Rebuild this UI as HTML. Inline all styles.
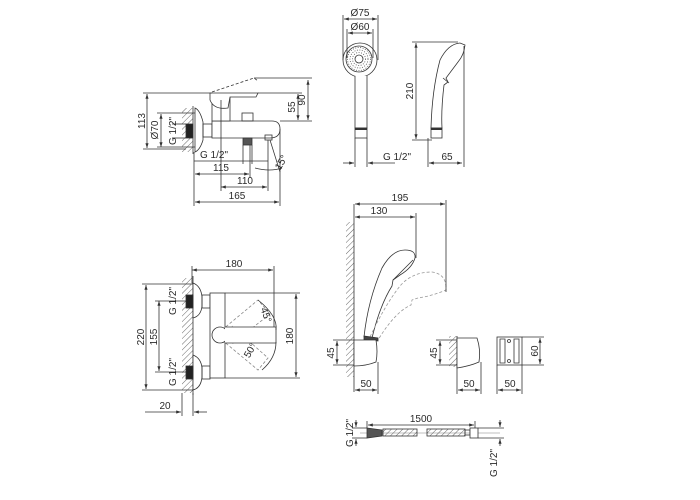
<!DOCTYPE html>
<html><head><meta charset="utf-8"><style>
html,body{margin:0;padding:0;background:#fff;}
svg{display:block;}
text{font-family:"Liberation Sans",sans-serif;font-size:10px;fill:#2a2a2a;}
</style></head><body>
<svg width="700" height="500" viewBox="0 0 700 500" xmlns="http://www.w3.org/2000/svg">
<defs>
<pattern id="h" width="4" height="4" patternUnits="userSpaceOnUse" patternTransform="rotate(45)">
<line x1="0" y1="0" x2="0" y2="4" stroke="#444" stroke-width="0.8"/></pattern>
<marker id="a" markerWidth="6" markerHeight="4" refX="6" refY="2" orient="auto-start-reverse"><path d="M0,0 L6,2 L0,4 z" fill="#333"/></marker>
</defs>
<g fill="none" stroke="#333" stroke-width="0.8">
<!-- ===== top-left mixer ===== -->
<rect x="182" y="108" width="11" height="44" fill="url(#h)" stroke="none"/>
<line x1="193" y1="106" x2="193" y2="154"/>
<path d="M195,108 Q200,110 203,122 L203,140 Q200,150 195,152 Z" fill="#fff"/>
<rect x="186" y="124" width="7" height="14" fill="#222"/>
<rect x="203" y="124" width="9" height="13"/>
<path d="M212,121 L272,121 Q280,121 280,129 Q280,138 270,138 L212,138 Z" fill="#fff"/>
<rect x="212" y="96" width="18" height="25" fill="#fff"/>
<path d="M210,93 L258,93 L256,97 L230,97 L228,108 Q214,110 210,100 Z" fill="#fff"/>
<path d="M212,92 L254,78 L258,81" stroke-dasharray="3,2"/>
<rect x="242" y="113" width="11" height="8"/>
<rect x="243" y="138" width="9" height="7" fill="#555"/>
<rect x="265" y="135" width="7" height="5"/>
<!-- dims -->
<path d="M147,94 V148" marker-start="url(#a)" marker-end="url(#a)"/>
<line x1="143" y1="93" x2="212" y2="93"/><line x1="143" y1="149" x2="186" y2="149"/>
<path d="M161,114 V147" marker-start="url(#a)" marker-end="url(#a)"/>
<line x1="157" y1="113" x2="195" y2="113"/><line x1="157" y1="147" x2="195" y2="147"/>
<line x1="172" y1="124" x2="186" y2="124"/><line x1="172" y1="138" x2="186" y2="138"/>
<path d="M298,94 V120" marker-start="url(#a)" marker-end="url(#a)"/>
<path d="M308,80 V120" marker-start="url(#a)" marker-end="url(#a)"/>
<line x1="258" y1="93" x2="302" y2="93"/><line x1="254" y1="78" x2="312" y2="78"/><line x1="280" y1="121" x2="312" y2="121"/>
<path d="M194,161 H268" />
<line x1="243" y1="145" x2="243" y2="164"/><line x1="252" y1="145" x2="252" y2="164"/>
<path d="M195,174 H249" marker-start="url(#a)" marker-end="url(#a)"/>
<path d="M221,187 H267" marker-start="url(#a)" marker-end="url(#a)"/>
<path d="M195,202 H279" marker-start="url(#a)" marker-end="url(#a)"/>
<line x1="194" y1="152" x2="194" y2="206"/><line x1="221" y1="100" x2="221" y2="191"/>
<line x1="250" y1="145" x2="250" y2="178"/><line x1="268" y1="140" x2="268" y2="191"/><line x1="280" y1="129" x2="280" y2="206"/>
<line x1="270" y1="140" x2="280" y2="172"/>
<path d="M255,168 Q270,172 282,168" />
<!-- ===== bottom-left mixer ===== -->
<rect x="182" y="278" width="11" height="115" fill="url(#h)" stroke="none"/>
<line x1="193" y1="276" x2="193" y2="395"/>
<path d="M193,283 Q201,286 202,297 L202,306 Q201,316 193,318 Z" fill="#fff"/>
<path d="M193,355 Q201,358 202,368 L202,377 Q201,388 193,390 Z" fill="#fff"/>
<rect x="186" y="295" width="7" height="13" fill="#222"/><rect x="186" y="366" width="7" height="13" fill="#222"/>
<rect x="202" y="295" width="8" height="13"/><rect x="202" y="366" width="8" height="13"/>
<rect x="210" y="293" width="15" height="85" fill="#fff"/>
<g stroke-dasharray="3,2" stroke="#888">
<path d="M222,330 L258,300 L270,314 L232,344"/>
<path d="M222,340 L258,370 L268,358 L232,326"/>
</g>
<circle cx="220" cy="335" r="8" fill="#fff"/>
<path d="M225,327 L276,327 L276,343 L225,343" fill="#fff"/>
<path d="M258,300 Q278,316 276,330"/><path d="M276,342 Q276,358 262,370"/>
<path d="M192,270 H273" marker-start="url(#a)" marker-end="url(#a)"/>
<line x1="192" y1="266" x2="192" y2="283"/><line x1="274" y1="266" x2="274" y2="327"/>
<path d="M296,294 V377" marker-start="url(#a)" marker-end="url(#a)"/>
<line x1="225" y1="293" x2="300" y2="293"/><line x1="225" y1="378" x2="300" y2="378"/>
<path d="M146,285 V389" marker-start="url(#a)" marker-end="url(#a)"/>
<line x1="142" y1="284" x2="193" y2="284"/><line x1="142" y1="390" x2="193" y2="390"/>
<path d="M159,301 V371" marker-start="url(#a)" marker-end="url(#a)"/>
<line x1="155" y1="301" x2="186" y2="301"/><line x1="155" y1="372" x2="186" y2="372"/>
<line x1="182" y1="393" x2="182" y2="416"/><line x1="193" y1="393" x2="193" y2="416"/>
<path d="M145,412 H181" marker-end="url(#a)"/><path d="M207,412 H194" marker-end="url(#a)"/>
<!-- ===== hand shower front ===== -->
<circle cx="360" cy="60" r="17" fill="#fff"/>
<circle cx="359" cy="59" r="13"/>
<circle cx="359" cy="59" r="4"/>
<g stroke="#555" stroke-dasharray="1,1.5"><circle cx="359" cy="59" r="9"/><circle cx="359" cy="59" r="11.5"/><circle cx="359" cy="59" r="6.5"/></g>
<path d="M355,76 L355,128 L367,128 L367,76" fill="#fff"/>
<rect x="355" y="128" width="12" height="10" fill="#fff"/>
<line x1="355" y1="129" x2="367" y2="129" stroke-width="2"/>
<path d="M344,19 H377" marker-start="url(#a)" marker-end="url(#a)"/>
<line x1="343" y1="15" x2="343" y2="60"/><line x1="378" y1="15" x2="378" y2="60"/>
<path d="M348,33 H372" marker-start="url(#a)" marker-end="url(#a)"/>
<line x1="347" y1="29" x2="347" y2="58"/><line x1="373" y1="29" x2="373" y2="58"/>
<path d="M343,163 H354" marker-end="url(#a)"/><path d="M395,163 H368" marker-end="url(#a)"/>
<line x1="355" y1="138" x2="355" y2="167"/><line x1="367" y1="138" x2="367" y2="167"/>
<!-- side -->
<path d="M431,128 Q432,90 440,60 Q448,44 460,43 L465,45 Q464,55 458,62 L446,78 L448,82 L444,85 Q441,110 442,128 Z" fill="#fff"/>
<line x1="443" y1="78" x2="449" y2="83"/>
<rect x="431" y="128" width="11" height="10" fill="#fff"/>
<line x1="431" y1="129" x2="442" y2="129" stroke-width="2"/>
<path d="M416,43 V139" marker-start="url(#a)" marker-end="url(#a)"/>
<line x1="412" y1="42" x2="458" y2="42"/><line x1="412" y1="140" x2="432" y2="140"/>
<path d="M429,163 H462" marker-start="url(#a)" marker-end="url(#a)"/>
<line x1="428" y1="138" x2="428" y2="167"/><line x1="464" y1="46" x2="464" y2="167"/>
<!-- ===== holder assembly ===== -->
<rect x="346" y="222" width="8" height="155" fill="url(#h)" stroke="none"/>
<line x1="354" y1="204" x2="354" y2="392"/>
<path d="M364,337 Q368,300 382,268 Q392,250 405,250 Q416,250 415,258 Q412,268 400,275 L393,280 L392,286 Q380,305 372,338" fill="#fff"/>
<path d="M393,280 L413,260"/>
<path d="M370,337 Q385,305 400,286 Q412,272 432,272 Q446,274 446,288 L446,290 Q432,296 418,298 L412,300 L411,305 Q395,312 378,340" stroke="#999" stroke-dasharray="3,2"/>
<path d="M364,336 L378,338 L378,341 L364,340 Z" fill="#444"/>
<path d="M354,340 L376,340 Q378,352 376,362 Q366,366 354,366 Z" fill="#fff"/>
<path d="M355,204 H445" marker-start="url(#a)" marker-end="url(#a)"/>
<line x1="446" y1="200" x2="446" y2="292"/>
<path d="M355,217 H415" marker-start="url(#a)" marker-end="url(#a)"/>
<line x1="416" y1="213" x2="416" y2="258"/>
<path d="M337,341 V364" marker-start="url(#a)" marker-end="url(#a)"/>
<line x1="333" y1="340" x2="354" y2="340"/><line x1="333" y1="365" x2="354" y2="365"/>
<path d="M355,390 H377" marker-start="url(#a)" marker-end="url(#a)"/>
<line x1="378" y1="362" x2="378" y2="394"/>
<!-- holder 2 -->
<rect x="449" y="336" width="8" height="31" fill="url(#h)" stroke="none"/>
<line x1="457" y1="336" x2="457" y2="394"/>
<path d="M457,338 L477,338 Q481,350 479,362 Q470,366 457,368 Z" fill="#fff"/>
<path d="M440,341 V364" marker-start="url(#a)" marker-end="url(#a)"/>
<line x1="436" y1="340" x2="457" y2="340"/><line x1="436" y1="365" x2="457" y2="365"/>
<path d="M458,390 H480" marker-start="url(#a)" marker-end="url(#a)"/>
<line x1="481" y1="362" x2="481" y2="394"/>
<!-- holder 3 -->
<rect x="497" y="337" width="25" height="28" fill="#fff"/>
<path d="M500,339 L505,339 L505,363 L500,363 Z M514,339 L519,339 L519,363 L514,363 Z"/>
<circle cx="509" cy="341" r="1.5"/><circle cx="509" cy="361" r="1.5"/>
<path d="M540,338 V364" marker-start="url(#a)" marker-end="url(#a)"/>
<line x1="522" y1="337" x2="544" y2="337"/><line x1="522" y1="365" x2="544" y2="365"/>
<path d="M498,390 H521" marker-start="url(#a)" marker-end="url(#a)"/>
<line x1="497" y1="365" x2="497" y2="394"/><line x1="522" y1="365" x2="522" y2="394"/>
<!-- ===== hose ===== -->
<line x1="360" y1="433" x2="500" y2="433" stroke="#aaa"/>
<path d="M367,428 L382,430 L382,436 L367,438 Z" fill="#555"/>
<rect x="383" y="429" width="34" height="7" fill="url(#h)"/>
<rect x="427" y="429" width="38" height="7" fill="url(#h)"/>
<rect x="465" y="430" width="5" height="5"/>
<rect x="470" y="428" width="8" height="10" fill="#fff"/>
<path d="M368,425 H474" marker-start="url(#a)" marker-end="url(#a)"/>
<line x1="367" y1="421" x2="367" y2="428"/><line x1="475" y1="421" x2="475" y2="428"/>
<path d="M356,420 V427" marker-end="url(#a)"/><path d="M356,446 V439" marker-end="url(#a)"/>
<line x1="352" y1="428" x2="367" y2="428"/><line x1="352" y1="438" x2="367" y2="438"/>
<path d="M500,420 V427" marker-end="url(#a)"/><path d="M500,446 V439" marker-end="url(#a)"/>
<line x1="478" y1="428" x2="504" y2="428"/><line x1="478" y1="438" x2="504" y2="438"/>
</g>
<!-- texts -->
<text x="221" y="171" text-anchor="middle">115</text>
<text x="245" y="184" text-anchor="middle">110</text>
<text x="237" y="199" text-anchor="middle">165</text>
<text x="214" y="158" text-anchor="middle">G 1/2"</text>
<text transform="translate(284,164) rotate(-60)" text-anchor="middle">15°</text>
<text transform="translate(145,121) rotate(-90)" text-anchor="middle">113</text>
<text transform="translate(158,130) rotate(-90)" text-anchor="middle">Ø70</text>
<text transform="translate(176,131) rotate(-90)" text-anchor="middle">G 1/2"</text>
<text transform="translate(295,107) rotate(-90)" text-anchor="middle">55</text>
<text transform="translate(305,100) rotate(-90)" text-anchor="middle">90</text>
<text x="234" y="267" text-anchor="middle">180</text>
<text transform="translate(293,336) rotate(-90)" text-anchor="middle">180</text>
<text transform="translate(144,337) rotate(-90)" text-anchor="middle">220</text>
<text transform="translate(157,337) rotate(-90)" text-anchor="middle">155</text>
<text transform="translate(176,301) rotate(-90)" text-anchor="middle">G 1/2"</text>
<text transform="translate(176,372) rotate(-90)" text-anchor="middle">G 1/2"</text>
<text transform="translate(263,316) rotate(70)" text-anchor="middle">45°</text>
<text transform="translate(253,352) rotate(-60)" text-anchor="middle">50°</text>
<text x="165" y="409" text-anchor="middle">20</text>
<text x="360" y="16" text-anchor="middle">Ø75</text>
<text x="360" y="30" text-anchor="middle">Ø60</text>
<text x="383" y="160">G 1/2"</text>
<text transform="translate(413,91) rotate(-90)" text-anchor="middle">210</text>
<text x="447" y="160" text-anchor="middle">65</text>
<text x="400" y="201" text-anchor="middle">195</text>
<text x="379" y="214" text-anchor="middle">130</text>
<text transform="translate(334,353) rotate(-90)" text-anchor="middle">45</text>
<text x="366" y="387" text-anchor="middle">50</text>
<text transform="translate(437,353) rotate(-90)" text-anchor="middle">45</text>
<text x="469" y="387" text-anchor="middle">50</text>
<text transform="translate(538,351) rotate(-90)" text-anchor="middle">60</text>
<text x="510" y="387" text-anchor="middle">50</text>
<text x="421" y="422" text-anchor="middle">1500</text>
<text transform="translate(353,433) rotate(-90)" text-anchor="middle">G 1/2"</text>
<text transform="translate(497,463) rotate(-90)" text-anchor="middle">G 1/2"</text>
</svg>
</body></html>
